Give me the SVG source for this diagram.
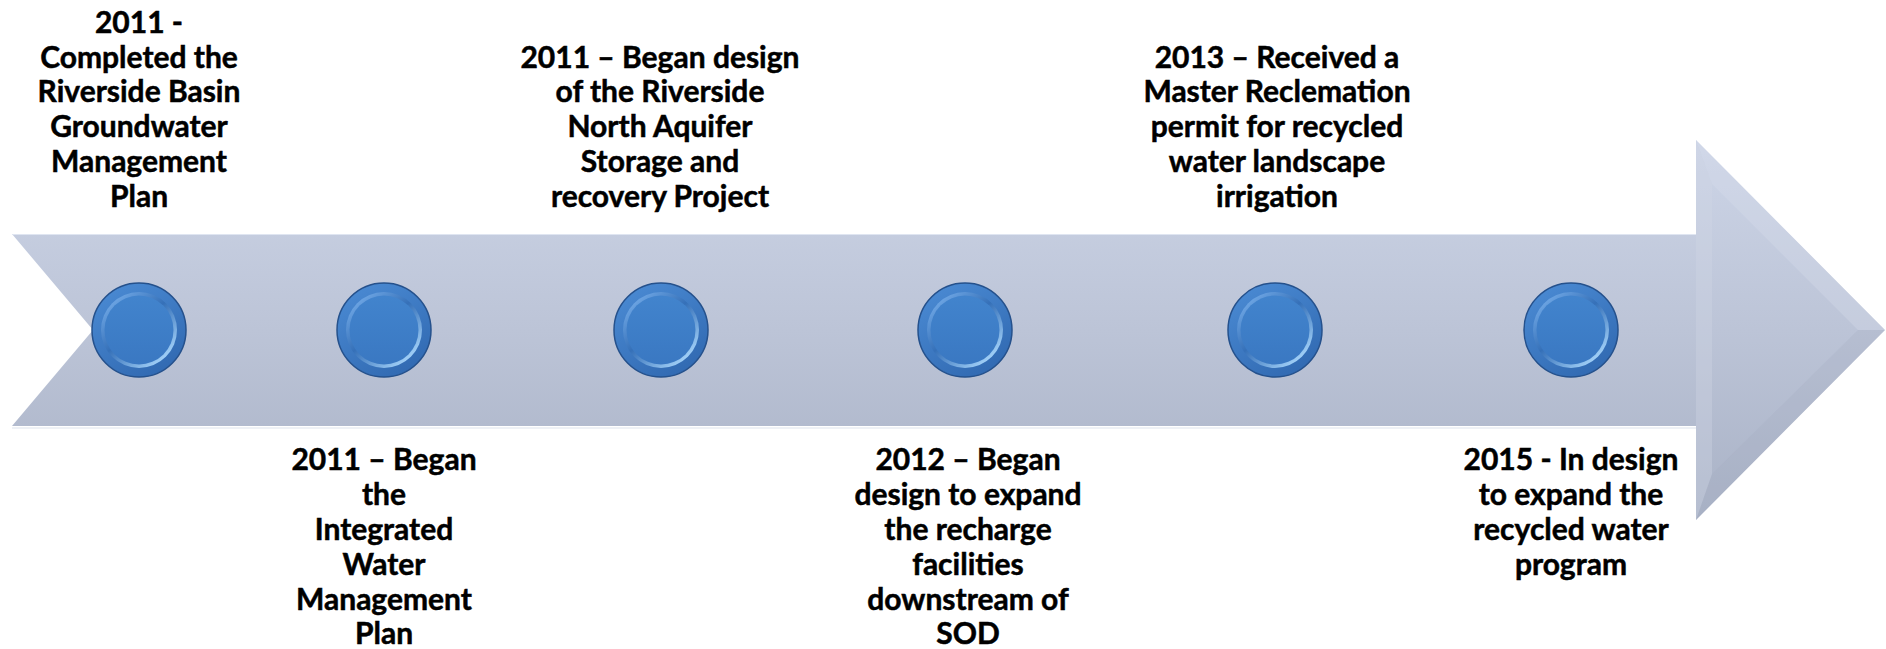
<svg xmlns="http://www.w3.org/2000/svg" width="1886" height="649" viewBox="0 0 1886 649">
<style>
.t{font-family:Lato,"Liberation Sans",sans-serif;font-weight:bold;font-size:30px;fill:#000;stroke:#000;stroke-width:0.5;text-anchor:middle}
</style>
<defs>
<linearGradient id="body" x1="0" y1="0" x2="0" y2="1">
<stop offset="0" stop-color="#cdd5e7"/>
<stop offset="0.5" stop-color="#bcc4d7"/>
<stop offset="1" stop-color="#a9b2c6"/>
</linearGradient>
<linearGradient id="outer" x1="0.2" y1="0" x2="0.8" y2="1">
<stop offset="0" stop-color="#4a8ad3"/>
<stop offset="1" stop-color="#3068b0"/>
</linearGradient>
<linearGradient id="rim" x1="0.15" y1="0.1" x2="0.85" y2="0.9">
<stop offset="0" stop-color="#6ea6e4"/>
<stop offset="0.45" stop-color="#3570b8"/>
<stop offset="1" stop-color="#a6d4fa"/>
</linearGradient>
<linearGradient id="face" x1="0" y1="0" x2="0" y2="1">
<stop offset="0" stop-color="#4284cd"/>
<stop offset="1" stop-color="#3a78c2"/>
</linearGradient>
</defs>

<g id="arrow">
<path d="M12,234 L1696,234 L1696,140 L1885,330 L1696,520 L1696,426 L12,426 L93,330 Z" fill="url(#body)"/>
<path d="M1696,140 L1885,330 L1858,330 L1712,184 Z" fill="#d6dcea" opacity="0.35"/>
<path d="M1696,520 L1885,330 L1858,330 L1712,474 Z" fill="#a3acc1" opacity="0.25"/>
<path d="M1696,140 L1712,184 L1712,474 L1696,520 Z" fill="#d0d6e6" opacity="0.35"/>
<line x1="12" y1="234.5" x2="1696" y2="234.5" stroke="#dfe5f1" stroke-width="1"/>
<line x1="12" y1="428" x2="1696" y2="428" stroke="#eef1f6" stroke-width="2"/>
</g>

<g id="connectors"></g>

<g id="m1" class="node">
<circle cx="139" cy="330" r="47" fill="url(#outer)" stroke="#25518c" stroke-width="1.5"/>
<circle cx="139" cy="330" r="38" fill="url(#rim)"/>
<circle cx="139" cy="330" r="34.5" fill="url(#face)"/>
<g class="label">
<text class="t" x="139" y="33">2011 -</text>
<text class="t" x="139" y="68">Completed the</text>
<text class="t" x="139" y="102">Riverside Basin</text>
<text class="t" x="139" y="137">Groundwater</text>
<text class="t" x="139" y="172">Management</text>
<text class="t" x="139" y="207">Plan</text>
</g>
</g>

<g id="m2" class="node">
<circle cx="384" cy="330" r="47" fill="url(#outer)" stroke="#25518c" stroke-width="1.5"/>
<circle cx="384" cy="330" r="38" fill="url(#rim)"/>
<circle cx="384" cy="330" r="34.5" fill="url(#face)"/>
<g class="label">
<text class="t" x="384" y="470">2011 – Began</text>
<text class="t" x="384" y="505">the</text>
<text class="t" x="384" y="540">Integrated</text>
<text class="t" x="384" y="575">Water</text>
<text class="t" x="384" y="610">Management</text>
<text class="t" x="384" y="644">Plan</text>
</g>
</g>

<g id="m3" class="node">
<circle cx="661" cy="330" r="47" fill="url(#outer)" stroke="#25518c" stroke-width="1.5"/>
<circle cx="661" cy="330" r="38" fill="url(#rim)"/>
<circle cx="661" cy="330" r="34.5" fill="url(#face)"/>
<g class="label">
<text class="t" x="660" y="68">2011 – Began design</text>
<text class="t" x="660" y="102">of the Riverside</text>
<text class="t" x="660" y="137">North Aquifer</text>
<text class="t" x="660" y="172">Storage and</text>
<text class="t" x="660" y="207">recovery Project</text>
</g>
</g>

<g id="m4" class="node">
<circle cx="965" cy="330" r="47" fill="url(#outer)" stroke="#25518c" stroke-width="1.5"/>
<circle cx="965" cy="330" r="38" fill="url(#rim)"/>
<circle cx="965" cy="330" r="34.5" fill="url(#face)"/>
<g class="label">
<text class="t" x="968" y="470">2012 – Began</text>
<text class="t" x="968" y="505">design to expand</text>
<text class="t" x="968" y="540">the recharge</text>
<text class="t" x="968" y="575">facilities</text>
<text class="t" x="968" y="610">downstream of</text>
<text class="t" x="968" y="644">SOD</text>
</g>
</g>

<g id="m5" class="node">
<circle cx="1275" cy="330" r="47" fill="url(#outer)" stroke="#25518c" stroke-width="1.5"/>
<circle cx="1275" cy="330" r="38" fill="url(#rim)"/>
<circle cx="1275" cy="330" r="34.5" fill="url(#face)"/>
<g class="label">
<text class="t" x="1277" y="68">2013 – Received a</text>
<text class="t" x="1277" y="102">Master Reclemation</text>
<text class="t" x="1277" y="137">permit for recycled</text>
<text class="t" x="1277" y="172">water landscape</text>
<text class="t" x="1277" y="207">irrigation</text>
</g>
</g>

<g id="m6" class="node">
<circle cx="1571" cy="330" r="47" fill="url(#outer)" stroke="#25518c" stroke-width="1.5"/>
<circle cx="1571" cy="330" r="38" fill="url(#rim)"/>
<circle cx="1571" cy="330" r="34.5" fill="url(#face)"/>
<g class="label">
<text class="t" x="1571" y="470">2015 - In design</text>
<text class="t" x="1571" y="505">to expand the</text>
<text class="t" x="1571" y="540">recycled water</text>
<text class="t" x="1571" y="575">program</text>
</g>
</g>
</svg>
